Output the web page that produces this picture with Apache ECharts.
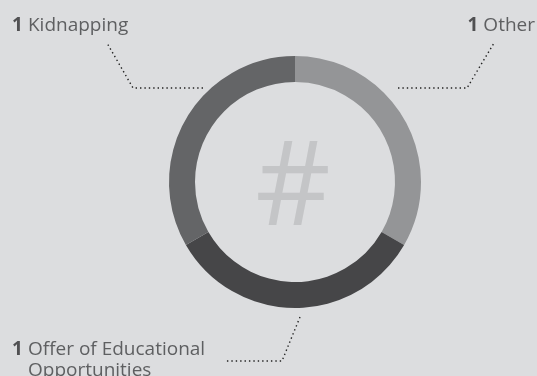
<!DOCTYPE html>
<html>
<head>
<meta charset="utf-8">
<script src="https://cdn.jsdelivr.net/npm/echarts@6/dist/echarts.min.js"></script>
<style>
  html, body { margin: 0; padding: 0; background: #dcdddf; }
  #main { width: 537px; height: 376px; }
</style>
</head>
<body>
<div id="main"></div>
<script>
// data
var categories = ['Other', 'Offer of Educational\nOpportunities', 'Kidnapping']
var counts = [1, 1, 1]
var colors = ['#949597', '#464648', '#646567']

var main = document.getElementById('main')
var myChart = echarts.init(main)

// label spot + leader line for each slice (Other, Offer, Kidnapping)
var layouts = [
  { x: 535, y: 26, align: 'right', pts: [[398, 88], [467, 88], [494, 43]] },
  { x: 12, y: 360, align: 'left', pts: [[300, 317], [282, 361], [224, 361]] },
  { x: 12, y: 26, align: 'left', pts: [[203, 88], [133, 88], [107, 43]] }
]

function labelText(p) {
  var lines = p.name.split('\n')
  var s = '{v|' + p.value + '} {n|' + lines[0] + '}'
  for (var i = 1; i < lines.length; i++) {
    s += '\n{ind|}{n|' + lines[i] + '}'
  }
  return s
}

myChart.setOption({
  backgroundColor: '#dcdddf',
  animation: false,
  graphic: [{
    type: 'text',
    x: 293,
    y: 192,
    style: {
      text: '#',
      font: '117px "Open Sans"',
      fill: '#c4c5c7',
      align: 'center',
      verticalAlign: 'middle'
    }
  }],
  series: [{
    type: 'pie',
    center: [295, 182],
    radius: [100, 126],
    startAngle: 90,
    clockwise: true,
    silent: true,
    data: categories.map(function (c, i) {
      return { name: c, value: counts[i], itemStyle: { color: colors[i] } }
    }),
    label: {
      show: true,
      formatter: labelText,
      fontFamily: 'Open Sans',
      rich: {
        v: { fontFamily: 'Open Sans', fontSize: 19, fontWeight: 'bold', color: '#505052', lineHeight: 21, padding: [0, 2, 0, 0] },
        n: { fontFamily: 'Open Sans', fontSize: 19, color: '#5e5f61', lineHeight: 21 },
        ind: { width: 16, lineHeight: 21 }
      }
    },
    labelLine: {
      show: true,
      lineStyle: { color: '#222', width: 1.4, type: [1.4, 3] }
    },
    labelLayout: function (params) {
      var l = layouts[params.dataIndex]
      return {
        x: l.x,
        y: l.y,
        align: l.align,
        verticalAlign: 'middle',
        labelLinePoints: l.pts
      }
    }
  }]
})
</script>
</body>
</html>
